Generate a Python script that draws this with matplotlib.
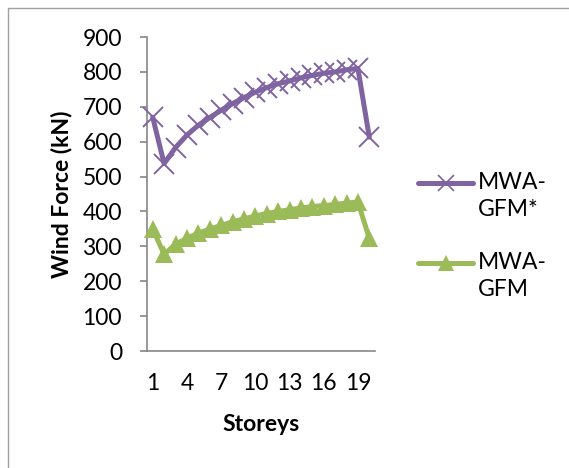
import matplotlib
matplotlib.use("Agg")
import matplotlib.pyplot as plt
from matplotlib.lines import Line2D
from matplotlib.patches import Rectangle

storeys = list(range(1, 21))
mwa_gfm_star = [670, 537, 583, 619, 647, 669, 690, 709, 726, 742, 755, 766, 774, 783, 790, 796, 800, 806, 810, 613]
mwa_gfm = [350, 277, 306, 323, 338, 349, 360, 370, 379, 387, 394, 400, 405, 410, 414, 417, 420, 424, 427, 323]
xtick_labels = ["1", "4", "7", "10", "13", "16", "19"]
series_names = ["MWA-\nGFM*", "MWA-\nGFM"]

purple = "#8064A2"
green = "#9BBB59"
gray = "#868686"
font = ["Lato", "DejaVu Sans"]
plt.rcParams["font.family"] = font
FS = 16.5

W, H = 569, 468
fig = plt.figure(figsize=(W / 100, H / 100), dpi=100)
fig.patch.set_facecolor("white")

# outer chart border
fig.add_artist(Rectangle((8 / W, -0.1), 1.2, (H - 8) / H + 0.1, transform=fig.transFigure,
                         fill=False, edgecolor="#a0a0a0", linewidth=1.0))

ax = fig.add_axes([147 / W, (H - 351) / H, (375 - 147) / W, (351 - 37) / H])
ax.plot(storeys, mwa_gfm_star, color=purple, linewidth=3.6, marker="x",
        markersize=14, markeredgewidth=1.4, solid_capstyle="round", clip_on=False, zorder=3)
ax.plot(storeys, mwa_gfm, color=green, linewidth=3.6, marker="^",
        markersize=13, markeredgewidth=0, solid_capstyle="round", clip_on=False, zorder=3)

ax.set_xlim(0.5, 20.5)
ax.set_ylim(0, 900)
ax.set_yticks(range(0, 901, 100))
ax.set_xticks([int(t) for t in xtick_labels])
ax.set_xticklabels(xtick_labels)
for s in ["top", "right"]:
    ax.spines[s].set_visible(False)
for s in ["left", "bottom"]:
    ax.spines[s].set_color(gray)
    ax.spines[s].set_linewidth(1.2)
ax.tick_params(axis="y", length=5, width=1.2, color=gray, pad=13, labelsize=FS)
ax.tick_params(axis="x", length=0, pad=16, labelsize=FS)

ax.set_xlabel("Storeys", fontsize=FS, fontweight="bold", labelpad=14)
ax.set_ylabel("Wind Force (kN)", fontsize=FS, fontweight="bold", labelpad=7)

# legend drawn manually
colors = [purple, green]
markers = ["x", "^"]
ys = [183, 263]
for name, c, m, y in zip(series_names, colors, markers, ys):
    yf = (H - y) / H
    fig.add_artist(Line2D([418 / W, 473 / W], [yf, yf], transform=fig.transFigure,
                          color=c, linewidth=3.6, solid_capstyle="round"))
    fig.add_artist(Line2D([445.5 / W], [yf], transform=fig.transFigure, color=c,
                          marker=m, markersize=11,
                          markeredgewidth=1.2 if m == "x" else 0, linestyle="none"))
    fig.text(478 / W, yf + 11 / H, name, fontsize=FS, va="top", ha="left",
             linespacing=1.35)

fig.savefig("out.png", dpi=100, facecolor="white")
